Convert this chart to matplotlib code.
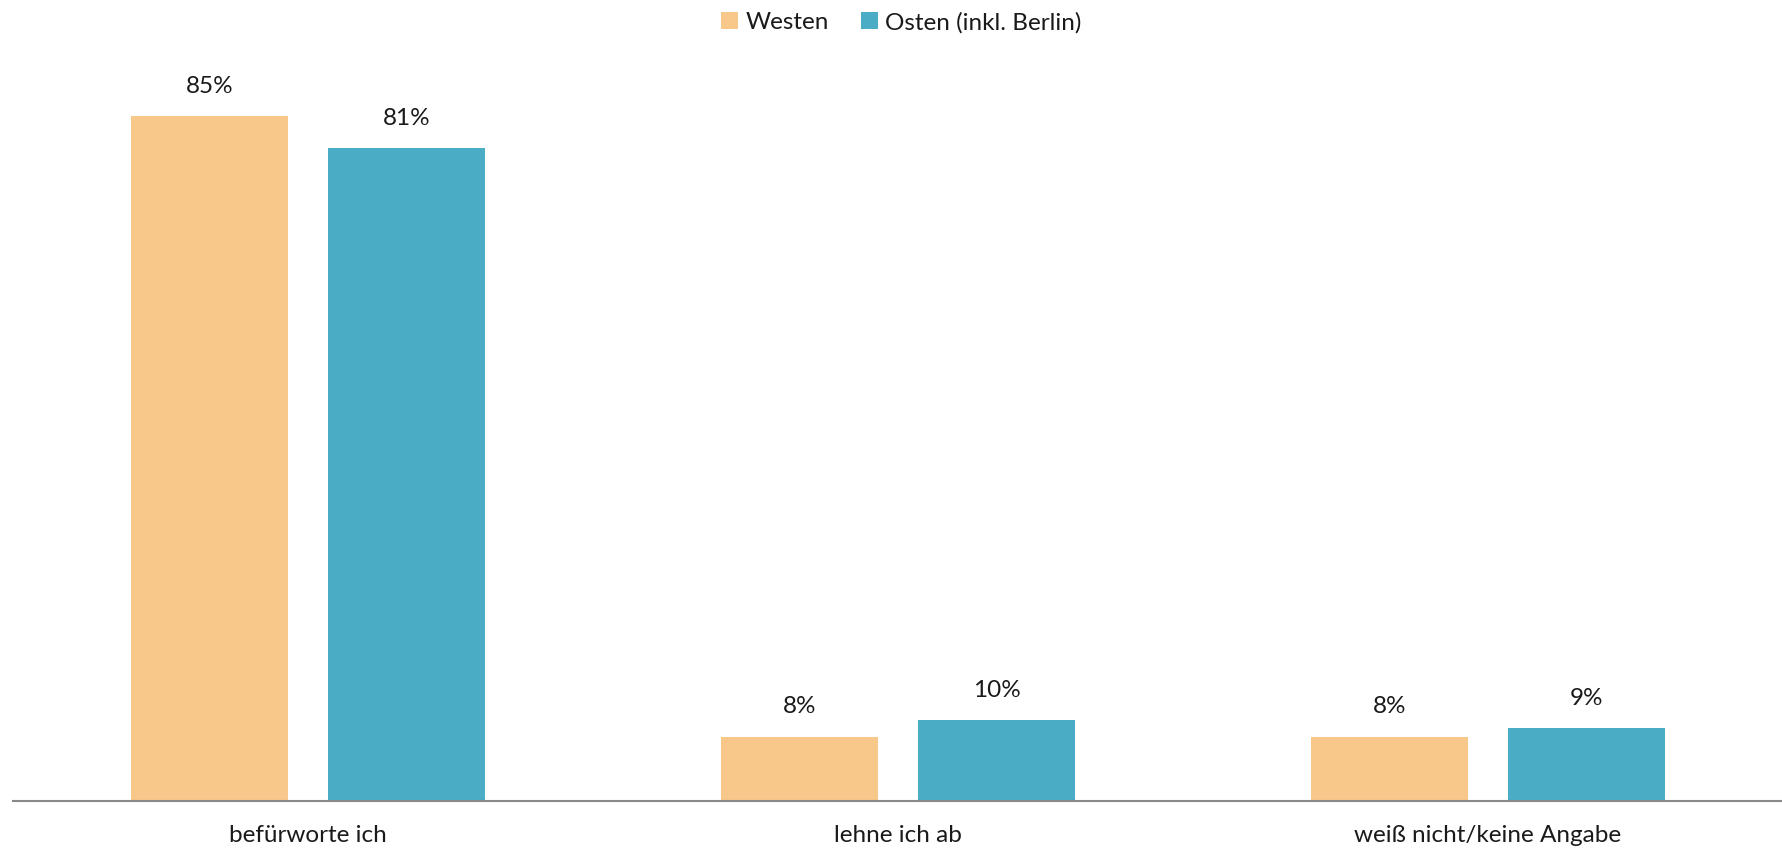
import numpy as np
import matplotlib.pyplot as plt

# Werte aus der Grafik
kategorien = ["befürworte ich", "lehne ich ab", "weiß nicht/keine Angabe"]
westen = [85, 8, 8]
osten = [81, 10, 9]
serien = ["Westen", "Osten (inkl. Berlin)"]
farben = ["#F8C78A", "#4BACC6"]

plt.rcParams['font.family'] = ['Lato', 'DejaVu Sans']

fig = plt.figure(figsize=(17.83, 8.49), dpi=100)
ax = fig.add_axes([0.0073, 48 / 849, 1 - 0.0073, 1 - 48 / 849 - 50 / 849])

x = np.arange(len(kategorien))
breite = 0.266
versatz = 0.167

b1 = ax.bar(x - versatz, westen, breite, color=farben[0], label=serien[0])
b2 = ax.bar(x + versatz, osten, breite, color=farben[1], label=serien[1])

for bars in (b1, b2):
    for b in bars:
        ax.annotate(f"{b.get_height():.0f}%",
                    (b.get_x() + b.get_width() / 2, b.get_height()),
                    xytext=(0, 14), textcoords="offset points",
                    ha="center", va="bottom", fontsize=17.5, color="#1a1a1a")

ax.set_xlim(-0.5, 2.5)
ax.set_ylim(0, 93.2)
ax.set_xticks(x)
ax.set_xticklabels(kategorien, fontsize=17.5, color="#1a1a1a")
ax.tick_params(axis="x", length=0, pad=17)
ax.set_yticks([])
for s in ["top", "right", "left"]:
    ax.spines[s].set_visible(False)
ax.spines["bottom"].set_color("#898989")
ax.spines["bottom"].set_linewidth(1.5)

fig.legend(loc="upper center", bbox_to_anchor=(0.5055, 1.012), ncol=2, frameon=False,
           fontsize=17.5, handlelength=0.7, handleheight=0.7, handletextpad=0.3,
           columnspacing=1.3, labelcolor="#1a1a1a")

fig.savefig("out.png", dpi=100)
